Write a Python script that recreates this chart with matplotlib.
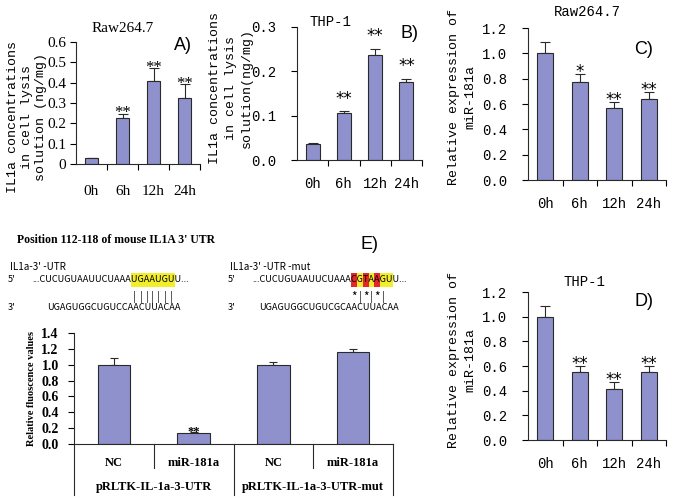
import matplotlib
matplotlib.use('Agg')
import matplotlib.pyplot as plt
import numpy as np
from matplotlib import font_manager
from matplotlib.font_manager import FontProperties
from matplotlib.patches import Rectangle

W, H = 675, 499

# ---- data ----
hours = ['0h', '6h', '12h', '24h']

raw_il1a = [0.028, 0.226, 0.41, 0.325]
raw_il1a_err = [0.003, 0.022, 0.06, 0.066]
raw_il1a_sig = ['', '**', '**', '**']

thp_il1a = [0.035, 0.105, 0.237, 0.175]
thp_il1a_err = [0.004, 0.005, 0.014, 0.008]
thp_il1a_sig = ['', '**', '**', '**']

raw_mir = [1.0, 0.77, 0.57, 0.64]
raw_mir_err = [0.087, 0.065, 0.043, 0.053]
raw_mir_sig = ['', '*', '**', '**']

thp_mir = [1.0, 0.55, 0.41, 0.555]
thp_mir_err = [0.088, 0.047, 0.06, 0.046]
thp_mir_sig = ['', '**', '**', '**']

luc_groups = ['pRLTK-IL-1a-3-UTR', 'pRLTK-IL-1a-3-UTR-mut']
luc_labels = ['NC', 'miR-181a', 'NC', 'miR-181a']
luc_vals = [1.0, 0.135, 1.0, 1.165]
luc_err = [0.085, 0.02, 0.03, 0.035]
luc_sig = ['', '**', '', '']

seq_wt = '...CUCUGUAAUUCUAAAUGAAUGUU...'
seq_mut = '...CUCUGUAAUUCUAAACGTAAGUU...'
seq_mir_wt = 'UGAGUGGCUGUCCAACUUACAA'
seq_mir_mut = 'UGAGUGGCUGUCGCAACUUACAA'
site_start = 18  # first char of the seed site in seq_wt / seq_mut
wt_marks = '|||||||'
mut_marks = '*|*|*|'
mut_colors = ['r', 'y', 'r', 'y', 'r', 'y', 'y']

BAR = '#8f91cc'
EDGE = '#2a2a2a'
MONO = 'Liberation Mono'
SERIF = 'Liberation Serif'
SANS = 'Liberation Sans'
STAR = 'DejaVu Sans'
names = {f.name for f in font_manager.fontManager.ttflist}
SEQ = 'Liberation Sans Narrow' if 'Liberation Sans Narrow' in names else 'Noto Sans CJK SC'
SEQ_SIZE = 6.6

fig = plt.figure(figsize=(6.75, 4.99), dpi=100)
fig.patch.set_facecolor('white')


def add_ax(l, t, r, b):
    return fig.add_axes([l / W, 1 - b / H, (r - l) / W, (b - t) / H])


def ftext(x, y, s, **kw):
    return fig.text(x / W, 1 - y / H, s, **kw)


def time_panel(ax, vals, errs, sig, ylim, yticks, ylabels, font, tsize, xpad, ypad,
               sfont, ssize, sdy):
    x = np.arange(len(hours))
    ax.bar(x, vals, width=0.45, color=BAR, edgecolor=EDGE, linewidth=0.8, zorder=2)
    ax.errorbar(x, vals, yerr=[np.zeros(len(vals)), errs], fmt='none', ecolor=EDGE,
                elinewidth=0.8, capsize=3.5, capthick=0.8, zorder=1)
    for xi, v, e, s in zip(x, vals, errs, sig):
        if s:
            ax.annotate(s, (xi, v + e), xytext=(0, sdy), textcoords='offset points',
                        ha='center', va='baseline', family=sfont, fontsize=ssize)
    ax.set_xlim(-0.5, 3.5)
    ax.set_ylim(*ylim)
    ax.set_yticks(yticks)
    ax.set_yticklabels(ylabels, family=font, fontsize=tsize)
    ax.set_xticks(x)
    ax.set_xticklabels(hours, family=font, fontsize=tsize)
    ax.set_xticks([0.5, 1.5, 2.5, 3.5], minor=True)
    ax.tick_params(axis='x', which='major', length=0, pad=xpad)
    ax.tick_params(axis='x', which='minor', length=4, width=0.8, direction='out')
    ax.tick_params(axis='y', length=4, width=0.8, direction='out', pad=ypad)
    for sp in ['top', 'right']:
        ax.spines[sp].set_visible(False)
    for sp in ['left', 'bottom']:
        ax.spines[sp].set_linewidth(0.8)
        ax.spines[sp].set_color(EDGE)
    ax.patch.set_alpha(0)


mir_ticks = np.arange(0, 1.21, 0.2)
mir_labels = [f'{v:.1f}' for v in mir_ticks]

# ---- A ----
axA = add_ax(76, 42, 200, 164)
time_panel(axA, raw_il1a, raw_il1a_err, raw_il1a_sig, (0, 0.6),
           np.arange(0, 0.61, 0.1), ['0', '0.1', '0.2', '0.3', '0.4', '0.5', '0.6'],
           SERIF, 11, 15, 3, SERIF, 12, -2.5)
ftext(123, 28, 'Raw264.7', family=SERIF, fontsize=11, ha='center', va='center')
ftext(183, 45, 'A)', family=SANS, fontsize=13, ha='center', va='center')
ftext(27, 117, 'IL1a concentrations\nin cell lysis\nsolution (ng/mg)', family=MONO,
      fontsize=9.5, rotation=90, ha='center', va='center', multialignment='center',
      linespacing=1.2)

# ---- B ----
axB = add_ax(297, 27, 422, 160)
time_panel(axB, thp_il1a, thp_il1a_err, thp_il1a_sig, (0, 0.3),
           np.arange(0, 0.31, 0.1), ['0.0', '0.1', '0.2', '0.3'],
           MONO, 10, 12, 11, STAR, 12, 5.5)
ftext(330, 22, 'THP-1', family=MONO, fontsize=10, ha='center', va='center')
ftext(409, 33, 'B)', family=SANS, fontsize=13, ha='center', va='center')
ftext(231, 88, 'IL1a concentrations\nin cell lysis\nsolution(ng/mg)', family=MONO,
      fontsize=9.5, rotation=90, ha='center', va='center', multialignment='center',
      linespacing=1.4)

# ---- C ----
axC = add_ax(528, 28, 666, 180)
time_panel(axC, raw_mir, raw_mir_err, raw_mir_sig, (0, 1.2), mir_ticks, mir_labels,
           MONO, 10, 12, 11, STAR, 12, -2)
ftext(587, 12, 'Raw264.7', family=MONO, fontsize=10, ha='center', va='center')
ftext(644, 49, 'C)', family=SANS, fontsize=13, ha='center', va='center')
ftext(462, 97, 'Relative expression of\nmiR-181a', family=MONO, fontsize=9.5,
      rotation=90, ha='center', va='center', multialignment='center', linespacing=1.5)

# ---- D ----
axD = add_ax(528, 292, 666, 440)
time_panel(axD, thp_mir, thp_mir_err, thp_mir_sig, (0, 1.2), mir_ticks, mir_labels,
           MONO, 10, 12, 11, STAR, 12, -2)
ftext(584, 282, 'THP-1', family=MONO, fontsize=10, ha='center', va='center')
ftext(644, 302, 'D)', family=SANS, fontsize=13, ha='center', va='center')
ftext(462, 360, 'Relative expression of\nmiR-181a', family=MONO, fontsize=9.5,
      rotation=90, ha='center', va='center', multialignment='center', linespacing=1.5)

# ---- E: luciferase bars ----
axE = add_ax(74, 333, 393, 444)
xe = np.arange(len(luc_vals))
axE.bar(xe, luc_vals, width=0.41, color=BAR, edgecolor=EDGE, linewidth=0.8, zorder=2)
axE.errorbar(xe, luc_vals, yerr=[np.zeros(len(luc_vals)), luc_err], fmt='none',
             ecolor=EDGE, elinewidth=0.8, capsize=3, capthick=0.8, zorder=1)
for xi, v, e, s in zip(xe, luc_vals, luc_err, luc_sig):
    if s:
        axE.annotate(s, (xi, v + e), xytext=(0, -2.5), textcoords='offset points',
                     ha='center', va='baseline', family=SERIF, fontsize=9,
                     fontweight='bold')
axE.set_xlim(-0.5, 3.5)
axE.set_ylim(0, 1.4)
yt = np.arange(0, 1.41, 0.2)
axE.set_yticks(yt)
axE.set_yticklabels([f'{v:.1f}' for v in yt], family=SERIF, fontsize=10, fontweight='bold')
axE.set_xticks([])
axE.tick_params(axis='y', length=4, width=0.8, direction='out', pad=7)
for sp in ['top', 'right']:
    axE.spines[sp].set_visible(False)
for sp in ['left', 'bottom']:
    axE.spines[sp].set_linewidth(0.8)
    axE.spines[sp].set_color(EDGE)
axE.patch.set_alpha(0)
xt = axE.get_xaxis_transform()
for xb in [0.5, 2.5]:
    axE.plot([xb, xb], [0, -0.216], transform=xt, clip_on=False, color=EDGE, lw=0.8)
for xb in [-0.5, 1.5, 3.5]:
    axE.plot([xb, xb], [0, -0.46], transform=xt, clip_on=False, color=EDGE, lw=0.8)
for xi, lab in zip(xe, luc_labels):
    axE.text(xi, -0.17, lab, transform=xt, ha='center', va='center', family=SERIF,
             fontsize=9, fontweight='bold')
for gi, g in enumerate(luc_groups):
    axE.text(0.5 + 2 * gi, -0.385, g, transform=xt, ha='center', va='center',
             family=SERIF, fontsize=9, fontweight='bold')
ftext(32, 388, 'Relative fluoscence values', family=SERIF, fontsize=7.5,
      fontweight='bold', rotation=90, ha='center', va='center')

# ---- E: sequences ----
ftext(17, 240, "Position 112-118 of mouse IL1A 3' UTR", family=SERIF, fontsize=8.5,
      fontweight='bold', ha='left', va='center')
ftext(370, 245, 'E)', family=SANS, fontsize=13, ha='center', va='center')

renderer = fig.canvas.get_renderer()
seq_prop = FontProperties(family=SEQ, size=SEQ_SIZE)


def tw(s):
    if not s:
        return 0.0
    return renderer.get_text_width_height_descent(s, seq_prop, ismath=False)[0]


def seq_block(x0, title, seq, mir, marks, colors):
    ftext(x0 + 2, 267, title, family=SEQ, fontsize=SEQ_SIZE + 0.5, ha='left', va='center')
    ftext(x0, 280, "5'", family=SEQ, fontsize=SEQ_SIZE, ha='left', va='center')
    ftext(x0, 308, "3'", family=SEQ, fontsize=SEQ_SIZE, ha='left', va='center')
    sx = x0 + 24
    lo = [sx + tw(seq[:k]) + 0.5 for k in range(len(seq))]
    hi = [sx + tw(seq[:k + 1]) + 0.5 for k in range(len(seq))]
    for i, c in enumerate(colors):
        k = site_start + i
        col = {'y': '#f2ee2c', 'r': '#e4262a'}[c]
        fig.patches.append(Rectangle((lo[k] / W, 1 - 287 / H), (hi[k] - lo[k]) / W, 14 / H,
                                     transform=fig.transFigure, facecolor=col,
                                     edgecolor='none', zorder=0))
    ftext(sx, 280, seq, family=SEQ, fontsize=SEQ_SIZE, ha='left', va='center', zorder=2)
    for i, m in enumerate(marks):
        k = site_start + i
        ftext((lo[k] + hi[k]) / 2, 297, m, family=SEQ,
              fontsize=SEQ_SIZE + (2 if m == '*' else 1), ha='center', va='center')
    # miRNA strand: its last-but-one 7 bases sit under the seed site
    end = hi[site_start + len(colors) - 1] + tw('A') + 0.5
    ftext(end, 308, mir, family=SEQ, fontsize=SEQ_SIZE, ha='right', va='center')


seq_block(8, "IL1a-3' -UTR", seq_wt, seq_mir_wt, wt_marks, ['y'] * 7)
seq_block(228, "IL1a-3' -UTR -mut", seq_mut, seq_mir_mut, mut_marks, mut_colors)

fig.savefig('out.png', dpi=100)
